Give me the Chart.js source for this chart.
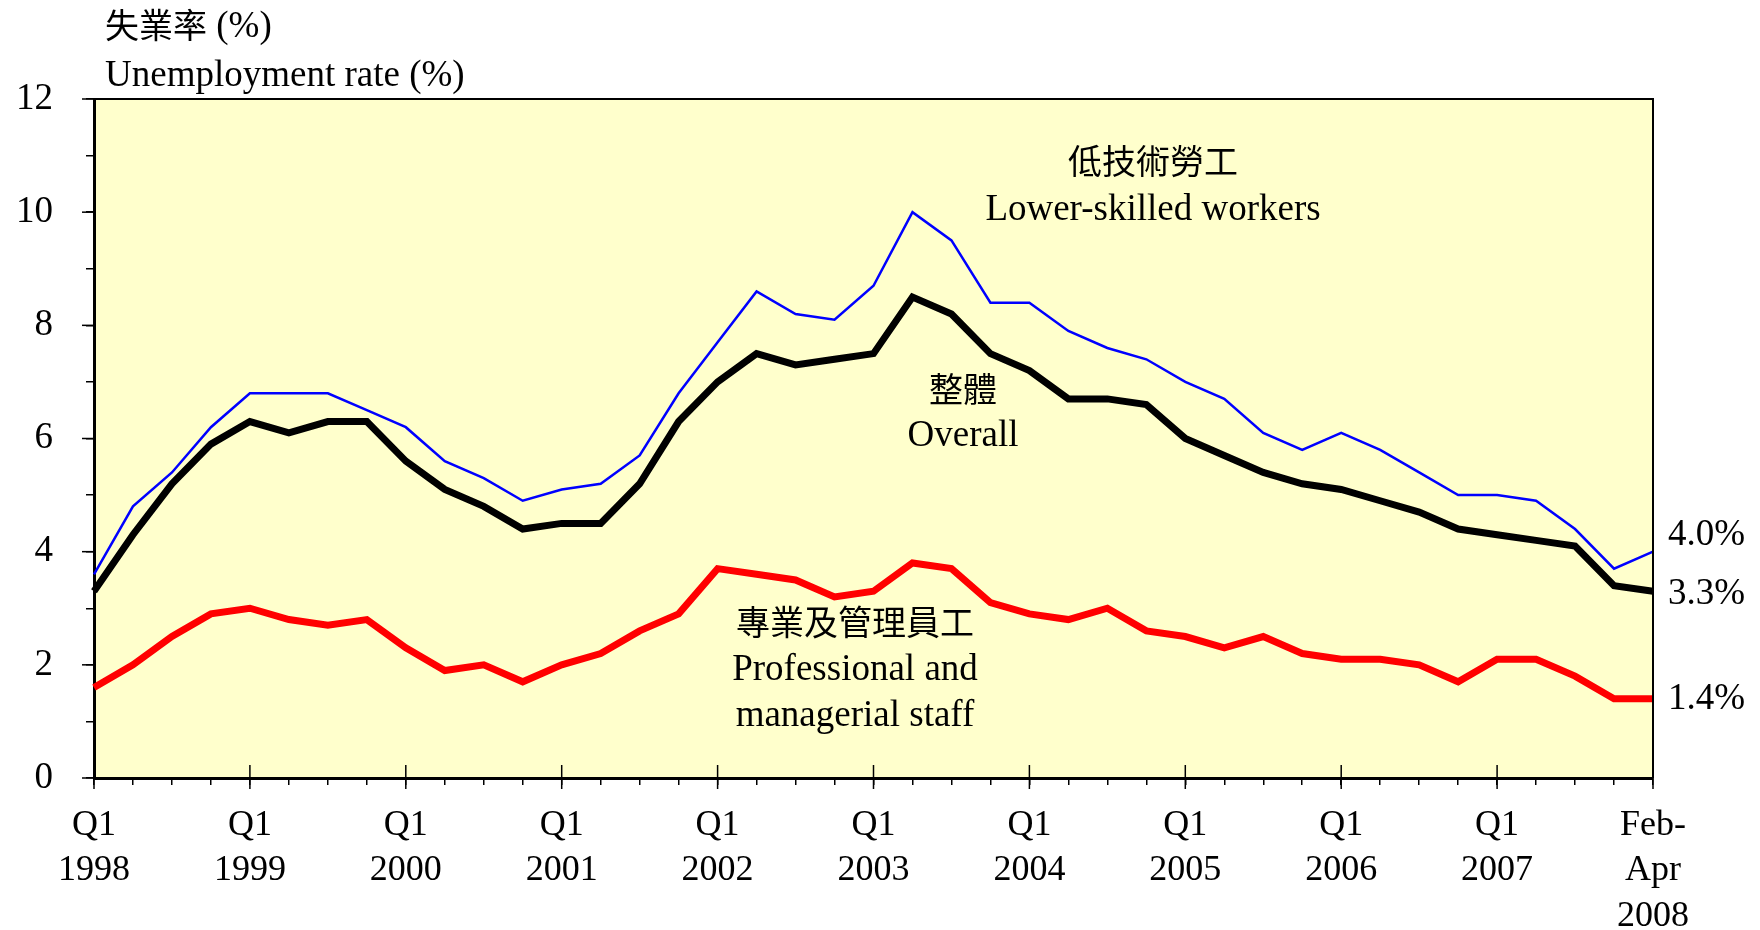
<!DOCTYPE html>
<html>
<head>
<meta charset="utf-8">
<script src="https://cdn.jsdelivr.net/npm/chart.js@4.4.1/dist/chart.umd.min.js"></script>
<style>
  html, body { margin: 0; padding: 0; background: #fff; }
  #wrap { width: 1760px; height: 930px; }
</style>
</head>
<body>
<div id="wrap"><canvas id="chart" width="1760" height="930"></canvas></div>
<script>
// ============================= DADOS =============================
const quarters = [
  '1998 Q1','1998 Q2','1998 Q3','1998 Q4','1999 Q1','1999 Q2','1999 Q3','1999 Q4',
  '2000 Q1','2000 Q2','2000 Q3','2000 Q4','2001 Q1','2001 Q2','2001 Q3','2001 Q4',
  '2002 Q1','2002 Q2','2002 Q3','2002 Q4','2003 Q1','2003 Q2','2003 Q3','2003 Q4',
  '2004 Q1','2004 Q2','2004 Q3','2004 Q4','2005 Q1','2005 Q2','2005 Q3','2005 Q4',
  '2006 Q1','2006 Q2','2006 Q3','2006 Q4','2007 Q1','2007 Q2','2007 Q3','2007 Q4',
  'Feb-Apr 2008'
]

const lowerSkilled = [3.6,4.8,5.4,6.2,6.8,6.8,6.8,6.5,6.2,5.6,5.3,4.9,5.1,5.2,5.7,6.8,
  7.7,8.6,8.2,8.1,8.7,10.0,9.5,8.4,8.4,7.9,7.6,7.4,7.0,6.7,6.1,5.8,6.1,5.8,5.4,5.0,
  5.0,4.9,4.4,3.7,4.0]

const overall = [3.3,4.3,5.2,5.9,6.3,6.1,6.3,6.3,5.6,5.1,4.8,4.4,4.5,4.5,5.2,6.3,
  7.0,7.5,7.3,7.4,7.5,8.5,8.2,7.5,7.2,6.7,6.7,6.6,6.0,5.7,5.4,5.2,5.1,4.9,4.7,4.4,
  4.3,4.2,4.1,3.4,3.3]

const professional = [1.6,2.0,2.5,2.9,3.0,2.8,2.7,2.8,2.3,1.9,2.0,1.7,2.0,2.2,2.6,2.9,
  3.7,3.6,3.5,3.2,3.3,3.8,3.7,3.1,2.9,2.8,3.0,2.6,2.5,2.3,2.5,2.2,2.1,2.1,2.0,1.7,
  2.1,2.1,1.8,1.4,1.4]

const lastLabel = ['Feb-', 'Apr', '2008']
const yTickValues = [0, 2, 4, 6, 8, 10, 12]

const serif = "'Liberation Serif', 'Times New Roman', serif"
const cjk = "'Noto Sans CJK TC', 'Noto Sans CJK SC', sans-serif"

// ============================= PLUGINS =============================
const fundo = {
  id: 'fundo',
  beforeDraw(chart){
    const {ctx, chartArea: a} = chart
    ctx.save()
    ctx.fillStyle = '#FFFFCC'
    ctx.fillRect(a.left, a.top, a.right - a.left, a.bottom - a.top)
    ctx.restore()
  },
  afterDraw(chart){
    const {ctx, chartArea: a, scales} = chart
    ctx.save()
    ctx.strokeStyle = '#000'
    ctx.lineWidth = 2
    ctx.beginPath()
    ctx.moveTo(a.left, a.top)
    ctx.lineTo(a.right, a.top)
    ctx.lineTo(a.right, a.bottom)
    ctx.stroke()

    // marcas maiores do eixo x (Q1)
    ctx.lineWidth = 1.5
    quarters.forEach((q, i) => {
      const isQ1 = q.endsWith('Q1')
      const isLast = i === quarters.length - 1
      if(!isQ1 && !isLast) return
      const x = scales.x.getPixelForValue(i)
      ctx.beginPath()
      ctx.moveTo(x, isLast ? a.bottom : a.bottom - 13)
      ctx.lineTo(x, a.bottom + 11)
      ctx.stroke()
    })
    // marcas maiores do eixo y
    yTickValues.forEach(v => {
      const y = scales.y.getPixelForValue(v)
      ctx.beginPath()
      ctx.moveTo(a.left - 12, y)
      ctx.lineTo(a.left, y)
      ctx.stroke()
    })

    // títulos e rótulos
    ctx.fillStyle = '#000'
    ctx.textBaseline = 'middle'
    ctx.textAlign = 'left'
    ctx.font = '34px ' + cjk
    ctx.fillText('失業率', 105, 25)
    const w = ctx.measureText('失業率').width
    ctx.font = '37px ' + serif
    ctx.fillText(' (%)', 105 + w, 27)
    ctx.fillText('Unemployment rate (%)', 105, 76)

    ctx.textAlign = 'center'
    ctx.font = '34px ' + cjk
    ctx.fillText('低技術勞工', 1153, 161)
    ctx.fillText('整體', 963, 389)
    ctx.fillText('專業及管理員工', 855, 622)
    ctx.font = '37px ' + serif
    ctx.fillText('Lower-skilled workers', 1153, 210)
    ctx.fillText('Overall', 963, 436)
    ctx.fillText('Professional and', 855, 670)
    ctx.fillText('managerial staff', 855, 716)

    // valores finais
    ctx.textAlign = 'left'
    const n = quarters.length - 1
    const finais = [[lowerSkilled[n], -16], [overall[n], 3], [professional[n], 0]]
    finais.forEach(([v, dy]) => {
      ctx.fillText(v.toFixed(1) + '%', a.right + 15, scales.y.getPixelForValue(v) + dy)
    })
    ctx.restore()
  }
}

// ============================= GRÁFICO =============================
const ctx = document.getElementById('chart')

new Chart(ctx, {
  type: 'line',
  data: {
    labels: quarters,
    datasets: [{
      label: 'Lower-skilled workers',
      data: lowerSkilled,
      borderColor: '#0000FF',
      borderWidth: 2.5,
      pointRadius: 0,
      tension: 0
    }, {
      label: 'Overall',
      data: overall,
      borderColor: '#000000',
      borderWidth: 7,
      pointRadius: 0,
      tension: 0
    }, {
      label: 'Professional and managerial staff',
      data: professional,
      borderColor: '#FF0000',
      borderWidth: 7,
      pointRadius: 0,
      tension: 0
    }]
  },
  options: {
    responsive: false,
    animation: false,
    events: [],
    layout: { padding: { top: 99, right: 107, bottom: 0, left: 0 } },
    plugins: { legend: { display: false }, tooltip: { enabled: false } },
    scales: {
      x: {
        offset: false,
        afterFit: s => { s.height = 152 },
        border: { color: '#000', width: 3 },
        grid: { drawOnChartArea: false, color: '#000', tickLength: 7, lineWidth: 1.5 },
        ticks: {
          autoSkip: false,
          maxRotation: 0,
          padding: 18,
          color: '#000',
          font: { family: serif, size: 36, lineHeight: 1.26 },
          callback: (val, i) => {
            if(i === quarters.length - 1) return lastLabel
            const q = quarters[i]
            return q.endsWith('Q1') ? ['Q1', q.slice(0, 4)] : ''
          }
        }
      },
      y: {
        min: 0,
        max: 12,
        afterFit: s => { s.width = 94 },
        border: { color: '#000', width: 3 },
        grid: { drawOnChartArea: false, color: '#000', tickLength: 8, lineWidth: 1.5 },
        ticks: {
          stepSize: 0.5,
          padding: 33,
          color: '#000',
          font: { family: serif, size: 37 },
          callback: v => yTickValues.includes(v) ? String(v) : ''
        }
      }
    }
  },
  plugins: [fundo]
})
</script>
</body>
</html>
